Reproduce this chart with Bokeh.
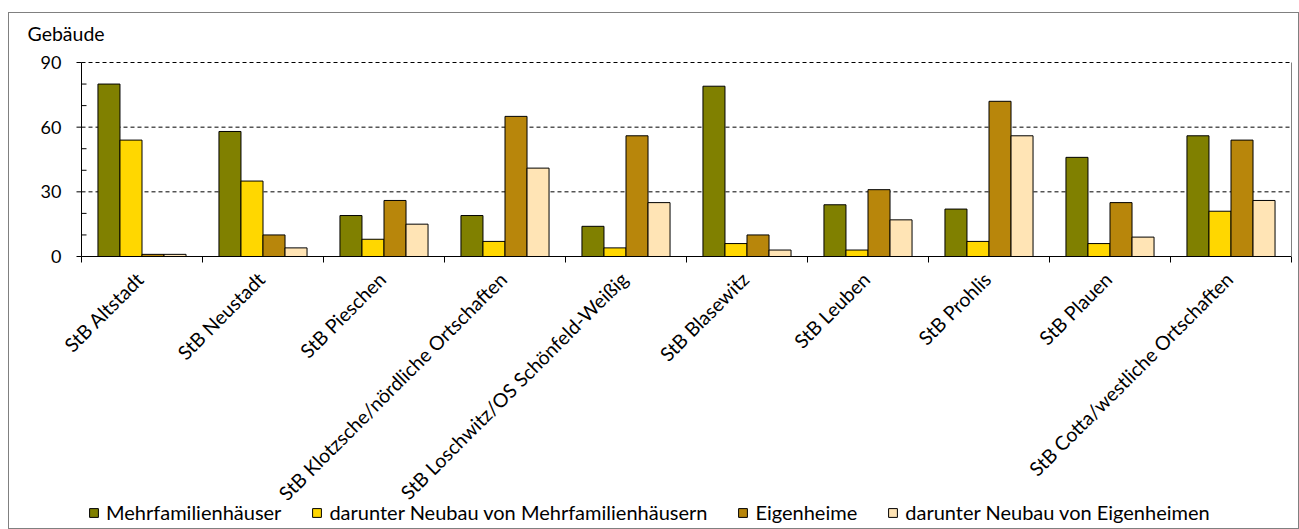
from bokeh.plotting import figure
from bokeh.models import (Range1d, Legend, LegendItem, ColumnDataSource, Span,
                          Title)
from bokeh.core.properties import value
from bokeh.embed import file_html
from bokeh.resources import INLINE
import math

categories = ["StB Altstadt", "StB Neustadt", "StB Pieschen",
              "StB Klotzsche/nördliche Ortschaften",
              "StB Loschwitz/OS Schönfeld-Weißig", "StB Blasewitz",
              "StB Leuben", "StB Prohlis", "StB Plauen",
              "StB Cotta/westliche Ortschaften"]
series_names = ["Mehrfamilienhäuser", "darunter Neubau von Mehrfamilienhäusern",
                "Eigenheime", "darunter Neubau von Eigenheimen"]
mehrfamilien = [80, 58, 19, 19, 14, 79, 24, 22, 46, 56]
neubau_mfh = [54, 35, 8, 7, 4, 6, 3, 7, 6, 21]
eigenheime = [1, 10, 26, 65, 56, 10, 31, 72, 25, 54]
neubau_eh = [1, 4, 15, 41, 25, 3, 17, 56, 9, 26]
y_ticks = [0, 30, 60, 90]
y_tick_labels = ["0", "30", "60", "90"]
y_minor = [10, 20, 40, 50, 70, 80]
y_title = "Gebäude"

colors = ["#808000", "#FFD700", "#B8860B", "#FFE4B5"]
series = [mehrfamilien, neubau_mfh, eigenheime, neubau_eh]

FONT = "Lato"

n = len(categories)
ymin, ymax = y_ticks[0], y_ticks[-1]
# layout in pixels (page coordinates): plot area 81..1291 x 62..256
px_per_unit = 194 / (ymax - ymin)
px_per_cat = 121
frame_h = 478
frame_w = 1289
y_end = ymax + 12 / px_per_unit
y_start = y_end - frame_h / px_per_unit
x_start = -72 / px_per_cat
x_end = x_start + frame_w / px_per_cat

p = figure(frame_width=frame_w, frame_height=frame_h, output_backend="svg",
           toolbar_location=None, x_axis_location=None, y_axis_location=None,
           x_range=Range1d(x_start, x_end), y_range=Range1d(y_start, y_end),
           min_border_left=0, min_border_top=0, min_border_bottom=0,
           min_border_right=0)
p.background_fill_color = "white"
p.outline_line_color = None
p.xgrid.visible = False
p.ygrid.visible = False

# dashed grid lines at 30/60/90 between the value axis and right border
grid_y = y_ticks[1:]
p.segment(x0=[0] * len(grid_y), x1=[n] * len(grid_y), y0=grid_y, y1=grid_y,
          line_color="black", line_dash="4 3", line_width=1)

bw = 0.182
offsets = [-1.5 * bw, -0.5 * bw, 0.5 * bw, 1.5 * bw]
items = []
for name, vals, col, off in zip(series_names, series, colors, offsets):
    src = ColumnDataSource(dict(x=[i + 0.5 + off for i in range(n)], top=vals))
    r = p.vbar(x="x", top="top", bottom=0, width=bw, source=src,
               fill_color=col, line_color="black", line_width=1)
    items.append(LegendItem(label=name, renderers=[r]))

# category axis: line, boundary ticks and rotated labels
p.segment(x0=[0], x1=[n], y0=[0], y1=[0], line_color="black", line_width=1)
p.ray(x=list(range(n + 1)), y=[0] * (n + 1), length=6, length_units="screen",
      angle=-math.pi / 2, line_color="black", line_width=1)
lab_src = ColumnDataSource(dict(x=[i + 0.5 for i in range(n)], y=[0] * n,
                                text=categories))
p.text(x="x", y="y", text="text", source=lab_src, angle=math.pi / 4,
       text_align="right", text_baseline="top", x_offset=-10, y_offset=11,
       text_font=value(FONT), text_font_size="19.5px", text_color="black")

# value axis: line, ticks, labels
p.segment(x0=[0], x1=[0], y0=[ymin], y1=[ymax], line_color="black",
          line_width=1)
p.ray(x=[0] * len(y_ticks), y=y_ticks, length=5, length_units="screen",
      angle=math.pi, line_color="black", line_width=1)
p.ray(x=[0] * len(y_minor), y=y_minor, length=5, length_units="screen",
      angle=0, line_color="black", line_width=1)
p.text(x=[0] * len(y_ticks), y=y_ticks, text=y_tick_labels, x_offset=-20,
       text_align="right", text_baseline="middle", text_font=value(FONT),
       text_font_size="18px", text_color="black")

# right border of plot area
p.segment(x0=[n], x1=[n], y0=[ymin], y1=[ymax], line_color="#808080",
          line_width=1)

p.title = Title(text=y_title, align="left", offset=18, text_font=FONT,
                text_font_size="19.5px", text_font_style="normal",
                text_color="black", standoff=12)

legend = Legend(items=items, orientation="horizontal", location=(79, 4),
                glyph_width=11, glyph_height=11, label_standoff=7, spacing=30,
                label_text_font=FONT, label_text_font_size="20px",
                label_text_color="black", label_height=20,
                border_line_color=None, background_fill_color="white",
                background_fill_alpha=1, padding=10, margin=0)
p.add_layout(legend, "center")

p.styles = {"border": "1px solid #808080", "margin-left": "8px",
            "margin-top": "12px"}

open("out.html", "w").write(file_html(p, INLINE))
